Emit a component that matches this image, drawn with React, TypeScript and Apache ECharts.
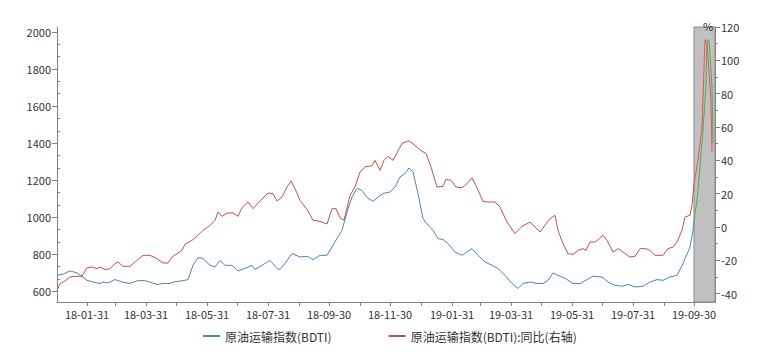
import React, { useEffect, useRef } from "react";
import * as echarts from "echarts";

const FONT = "'Noto Sans CJK SC', 'Noto Sans', sans-serif";

const bdtiName = "原油运输指数(BDTI)";
const yoyName = "原油运输指数(BDTI):同比(右轴)";

const bdtiDates = ["2018-01-01","2018-01-07","2018-01-14","2018-01-21","2018-01-26","2018-01-31","2018-02-06","2018-02-13","2018-02-16","2018-02-21","2018-02-28","2018-03-07","2018-03-15","2018-03-22","2018-03-28","2018-04-04","2018-04-11","2018-04-17","2018-04-24","2018-04-29","2018-05-06","2018-05-12","2018-05-17","2018-05-22","2018-05-27","2018-06-03","2018-06-08","2018-06-13","2018-06-18","2018-06-25","2018-07-01","2018-07-08","2018-07-15","2018-07-18","2018-07-25","2018-08-02","2018-08-09","2018-08-12","2018-08-17","2018-08-24","2018-09-01","2018-09-08","2018-09-14","2018-09-21","2018-09-28","2018-10-03","2018-10-08","2018-10-13","2018-10-18","2018-10-23","2018-10-28","2018-11-02","2018-11-07","2018-11-13","2018-11-18","2018-11-23","2018-11-30","2018-12-05","2018-12-10","2018-12-15","2018-12-19","2018-12-23","2018-12-28","2019-01-02","2019-01-07","2019-01-12","2019-01-17","2019-01-22","2019-01-27","2019-02-03","2019-02-10","2019-02-15","2019-02-20","2019-02-26","2019-03-05","2019-03-12","2019-03-18","2019-03-25","2019-04-01","2019-04-07","2019-04-12","2019-04-19","2019-04-26","2019-05-02","2019-05-07","2019-05-12","2019-05-17","2019-05-24","2019-06-01","2019-06-08","2019-06-15","2019-06-21","2019-06-30","2019-07-06","2019-07-13","2019-07-20","2019-07-26","2019-08-02","2019-08-10","2019-08-17","2019-08-24","2019-08-30","2019-09-06","2019-09-13","2019-09-19","2019-09-26","2019-09-29","2019-09-30"];
const bdtiValues = [686,692,710,699,681,659,650,642,650,645,663,650,642,656,659,650,636,642,642,652,656,663,740,782,777,740,731,767,740,740,710,723,740,717,740,767,723,717,750,804,785,789,771,794,794,839,885,929,1028,1109,1155,1145,1106,1086,1109,1128,1136,1163,1217,1236,1266,1244,1128,993,957,929,885,879,858,812,794,812,830,794,758,740,723,686,642,615,642,650,642,642,659,699,686,670,642,641,663,681,677,650,632,627,637,623,627,650,663,659,677,686,750,839,929,983];

const bdtiLateDates = ["2019-09-30","2019-10-03","2019-10-06","2019-10-09","2019-10-12","2019-10-13","2019-10-15","2019-10-18","2019-10-19"];
const bdtiLateValues = [983,1091,1270,1470,1720,1955,1955,1710,1400];

const yoyDates = ["2018-01-01","2018-01-04","2018-01-09","2018-01-14","2018-01-19","2018-01-26","2018-01-31","2018-02-05","2018-02-10","2018-02-13","2018-02-18","2018-02-23","2018-02-28","2018-03-03","2018-03-08","2018-03-15","2018-03-22","2018-03-28","2018-04-04","2018-04-11","2018-04-17","2018-04-22","2018-04-26","2018-05-01","2018-05-06","2018-05-09","2018-05-16","2018-05-22","2018-05-27","2018-06-03","2018-06-08","2018-06-11","2018-06-15","2018-06-20","2018-06-26","2018-07-01","2018-07-05","2018-07-11","2018-07-16","2018-07-23","2018-07-31","2018-08-05","2018-08-09","2018-08-14","2018-08-19","2018-08-23","2018-08-27","2018-09-01","2018-09-08","2018-09-14","2018-09-21","2018-09-28","2018-10-03","2018-10-07","2018-10-11","2018-10-15","2018-10-21","2018-10-26","2018-10-31","2018-11-05","2018-11-12","2018-11-15","2018-11-20","2018-11-24","2018-11-28","2018-12-03","2018-12-07","2018-12-12","2018-12-19","2018-12-25","2019-01-01","2019-01-05","2019-01-10","2019-01-16","2019-01-22","2019-01-25","2019-01-30","2019-02-04","2019-02-10","2019-02-15","2019-02-20","2019-02-25","2019-03-03","2019-03-08","2019-03-15","2019-03-20","2019-03-27","2019-04-04","2019-04-11","2019-04-19","2019-04-29","2019-05-09","2019-05-14","2019-05-17","2019-05-22","2019-05-27","2019-06-01","2019-06-06","2019-06-11","2019-06-14","2019-06-18","2019-06-23","2019-06-26","2019-07-01","2019-07-05","2019-07-11","2019-07-16","2019-07-21","2019-07-28","2019-08-02","2019-08-07","2019-08-13","2019-08-17","2019-08-22","2019-08-30","2019-09-04","2019-09-09","2019-09-13","2019-09-18","2019-09-21","2019-09-26","2019-09-28","2019-09-30"];
const yoyValues = [-38,-34,-32.4,-30,-29.6,-29.6,-24.4,-24,-25,-24,-25.6,-25,-22,-21,-23.6,-23.6,-20,-17,-17,-19,-21.6,-21.6,-18,-16,-14,-10.4,-8,-5,-2,1,4,9,6.4,8.4,8.4,6.4,11.6,15,11,15.6,20.4,20,15.6,18,24,27.6,23,16,10.6,4,3.4,1.8,11,11,5.6,4,19,24,33,36.1,36.7,40,34,40,42.4,40,44.5,50.2,51.8,49,45.4,44.2,36,24,24.4,28.6,28,24,23.5,26,29.5,23.5,15.4,15,15,12,3,-4,0.4,3,-3,5,7,-2,-10,-16,-16.4,-14,-13,-14,-9,-9,-7.6,-5,-8,-15,-13,-15,-18,-17.6,-13,-13,-14,-17,-17,-13,-12,-9,-2,6,7,13,26];

const yoyLateDates = ["2019-09-30","2019-10-04","2019-10-08","2019-10-11","2019-10-13","2019-10-17","2019-10-18"];
const yoyLateValues = [26,40,60,112.4,110,76,45];

const monthEnds = ["2018-01-31","2018-02-28","2018-03-31","2018-04-30","2018-05-31","2018-06-30","2018-07-31","2018-08-31","2018-09-30","2018-10-31","2018-11-30","2018-12-31","2019-01-31","2019-02-28","2019-03-31","2019-04-30","2019-05-31","2019-06-30","2019-07-31","2019-08-31","2019-09-30"];
const xLabelDates = ["2018-01-31","2018-03-31","2018-05-31","2018-07-31","2018-09-30","2018-11-30","2019-01-31","2019-03-31","2019-05-31","2019-07-31","2019-09-30"];

const leftTicks = [600,800,1000,1200,1400,1600,1800,2000];
const rightTicks = [-40,-20,0,20,40,60,80,100,120];
const leftMinorTicks = [666.7,733.3,866.7,933.3,1066.7,1133.3,1266.7,1333.3,1466.7,1533.3,1666.7,1733.3,1866.7,1933.3];
const rightMinorTicks = [-30,-10,10,30,50,70,90,110];

const toTs = (s: string) => {
  const [y, m, d] = s.split("-").map(Number);
  return new Date(y, m - 1, d).getTime();
};
const pad = (n: number) => (n < 10 ? "0" + n : "" + n);
const fmtDate = (v: number) => {
  const d = new Date(v);
  return String(d.getFullYear()).slice(2) + "-" + pad(d.getMonth() + 1) + "-" + pad(d.getDate());
};
const pairs = (dates: string[], vals: number[]) => dates.map((d, i) => [toTs(d), vals[i]]);

const AXIS_COLOR = "#808080";
const TEXT_COLOR = "#333";

export default function App() {
  const ref = useRef<HTMLDivElement>(null);
  useEffect(() => {
    if (!ref.current) return;
    const chart = echarts.init(ref.current, undefined, { renderer: "svg" });
    const labelStyle = { fontSize: 11, color: TEXT_COLOR, fontFamily: FONT };
    chart.setOption({
      animation: false,
      grid: { left: 57, right: 54, top: 27, bottom: 50, containLabel: false },
      legend: {
        left: 198,
        top: 325,
        itemGap: 57,
        itemWidth: 17,
        itemHeight: 2,
        itemTextGap: 3,
        icon: "rect",
        textStyle: { fontSize: 12, color: TEXT_COLOR, fontFamily: FONT },
        data: [
          { name: bdtiName, itemStyle: { color: "#4f81bd" } },
          { name: yoyName, itemStyle: { color: "#c0504d" } },
        ],
      },
      xAxis: {
        type: "value",
        min: toTs("2018-01-01"),
        max: toTs("2019-10-21"),
        splitLine: { show: false },
        axisLine: { show: true, onZero: false, lineStyle: { color: AXIS_COLOR } },
        axisTick: { show: true, length: 4, customValues: monthEnds.map(toTs), lineStyle: { color: AXIS_COLOR } },
        axisLabel: { ...labelStyle, margin: 6, customValues: xLabelDates.map(toTs), formatter: (v: number) => fmtDate(v) },
      },
      yAxis: [
        {
          type: "value",
          position: "left",
          min: 542,
          max: 2027,
          splitLine: { show: false },
          axisLine: { show: true, onZero: false, lineStyle: { color: AXIS_COLOR } },
          axisTick: { show: true, length: 5, customValues: leftTicks, lineStyle: { color: AXIS_COLOR } },
          axisLabel: { ...labelStyle, margin: 6, customValues: leftTicks, formatter: (v: number) => String(v) },
        },
        {
          type: "value",
          position: "right",
          min: -45,
          max: 120,
          splitLine: { show: false },
          axisLine: { show: true, onZero: false, lineStyle: { color: AXIS_COLOR } },
          axisTick: { show: true, length: 5, customValues: rightTicks, lineStyle: { color: AXIS_COLOR } },
          axisLabel: { ...labelStyle, margin: 6, customValues: rightTicks, formatter: (v: number) => String(v) },
        },
        {
          type: "value",
          position: "left",
          min: 542,
          max: 2027,
          splitLine: { show: false },
          axisLine: { show: false, onZero: false },
          axisTick: { show: true, inside: true, length: 3, customValues: leftMinorTicks, lineStyle: { color: AXIS_COLOR } },
          axisLabel: { show: false },
        },
        {
          type: "value",
          position: "right",
          min: -45,
          max: 120,
          splitLine: { show: false },
          axisLine: { show: false, onZero: false },
          axisTick: { show: true, length: 3, customValues: rightMinorTicks, lineStyle: { color: AXIS_COLOR } },
          axisLabel: { show: false },
        },
      ],
      graphic: [
        {
          type: "text",
          left: 703,
          top: 20,
          z: 100,
          style: { text: "%", fontSize: 11, fill: TEXT_COLOR, fontFamily: FONT },
        },
      ],
      series: [
        {
          name: "gray",
          type: "line",
          yAxisIndex: 0,
          data: [],
          markArea: {
            silent: true,
            itemStyle: { color: "#c0c0c0", borderColor: "#8c8c8c", borderWidth: 1 },
            data: [[{ xAxis: toTs("2019-09-30") }, { xAxis: toTs("2019-10-21") }]],
          },
          z: 1,
        },
        {
          name: bdtiName,
          type: "line",
          yAxisIndex: 0,
          symbol: "none",
          data: pairs(bdtiDates, bdtiValues),
          lineStyle: { color: "#4f81bd", width: 1 },
          itemStyle: { color: "#4f81bd" },
          z: 3,
        },
        {
          name: yoyName,
          type: "line",
          yAxisIndex: 1,
          symbol: "none",
          data: pairs(yoyDates, yoyValues),
          lineStyle: { color: "#c0504d", width: 1 },
          itemStyle: { color: "#c0504d" },
          z: 3,
        },
        {
          name: "BDTI-late",
          type: "line",
          yAxisIndex: 0,
          symbol: "none",
          data: pairs(bdtiLateDates, bdtiLateValues),
          lineStyle: { color: "#4caf50", width: 1 },
          z: 3,
        },
        {
          name: "YoY-late",
          type: "line",
          yAxisIndex: 1,
          symbol: "none",
          data: pairs(yoyLateDates, yoyLateValues),
          lineStyle: { color: "#f05050", width: 1 },
          z: 3,
        },
      ],
    });
    return () => chart.dispose();
  }, []);
  return (
    <div
      ref={ref}
      style={{ position: "absolute", left: 0, top: 0, width: 769, height: 352, background: "#fff" }}
    />
  );
}
